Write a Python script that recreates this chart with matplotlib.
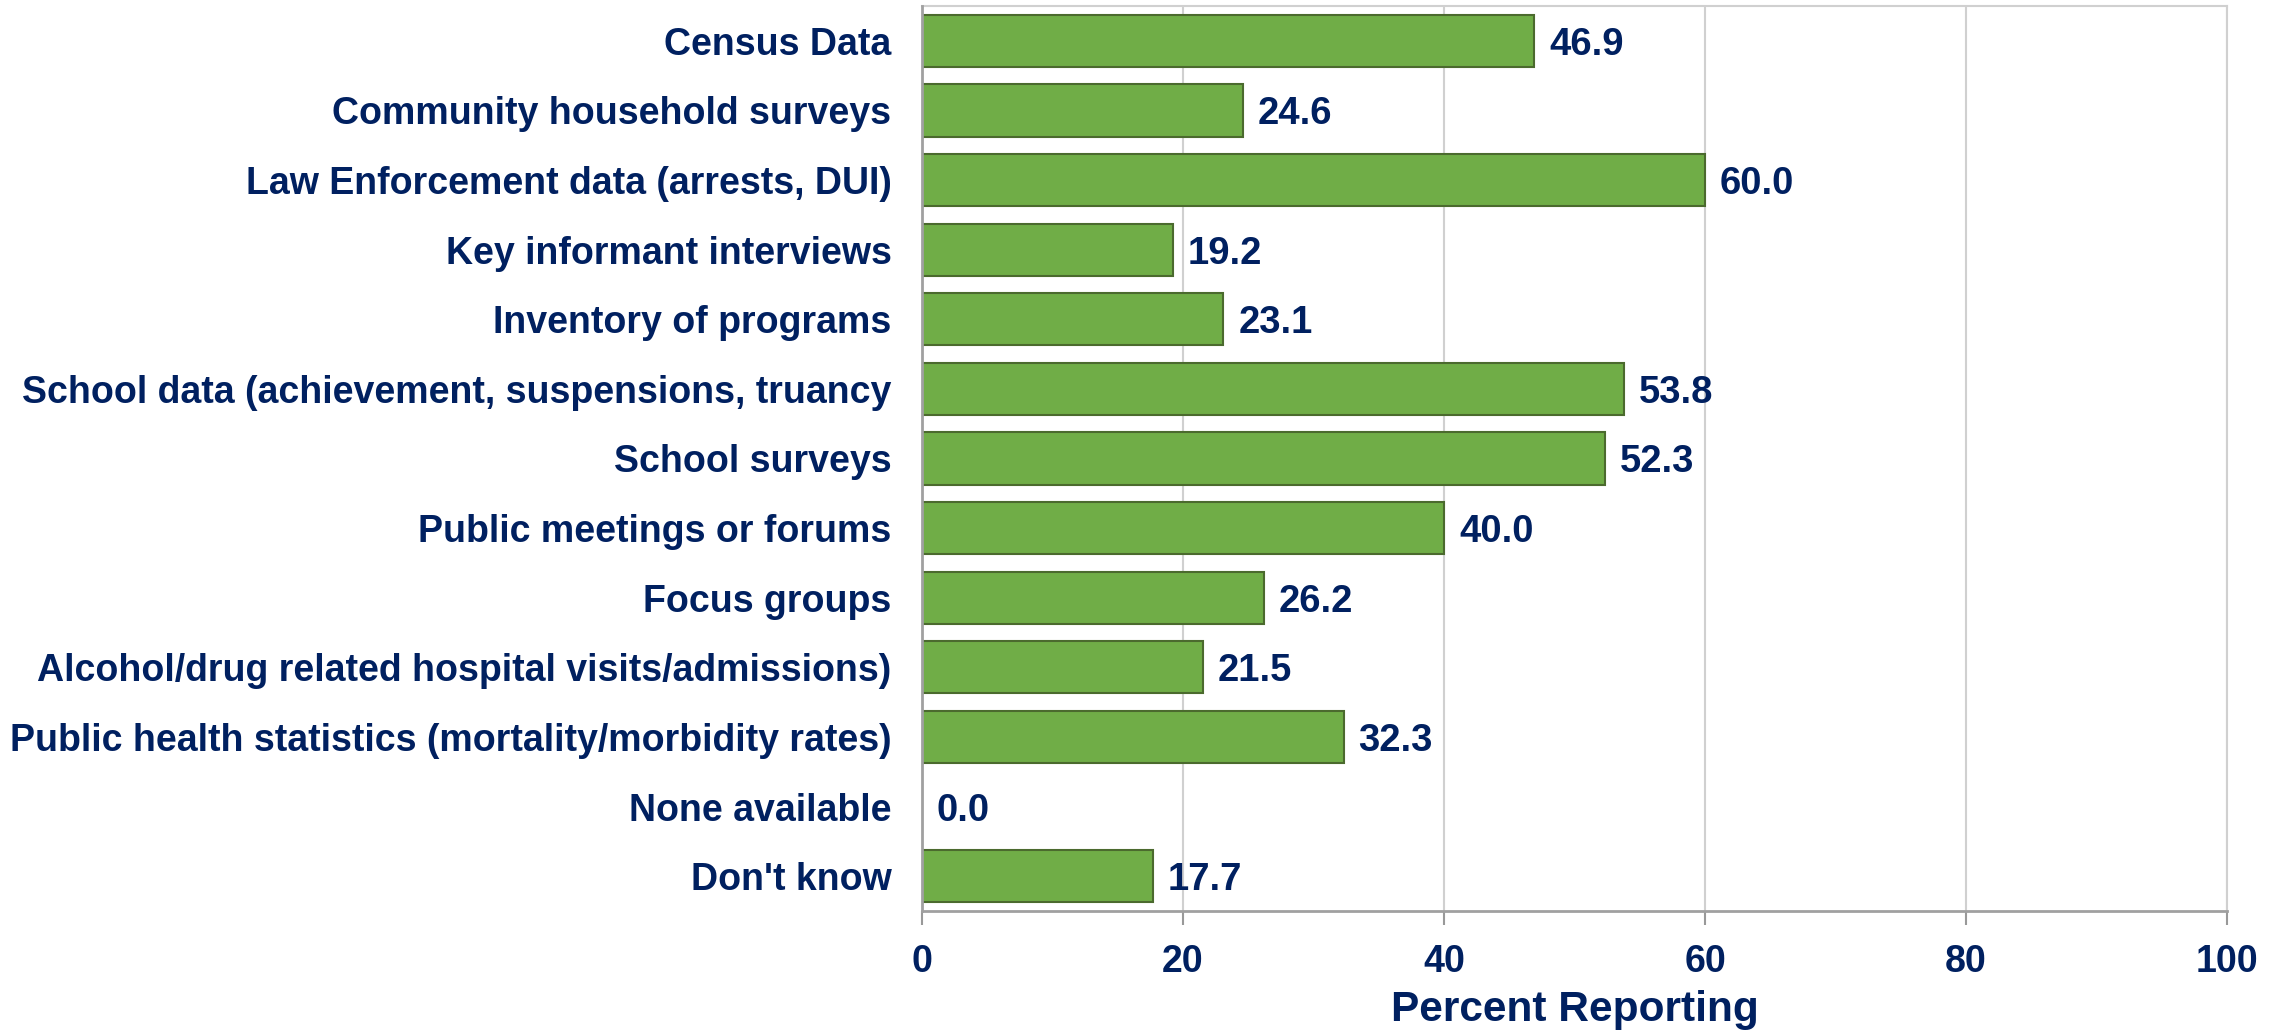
import numpy as np
import matplotlib
matplotlib.use("Agg")
import matplotlib.pyplot as plt
from matplotlib.transforms import offset_copy

categories = [
    "Census Data",
    "Community household surveys",
    "Law Enforcement data (arrests, DUI)",
    "Key informant interviews",
    "Inventory of programs",
    "School data (achievement, suspensions, truancy",
    "School surveys",
    "Public meetings or forums",
    "Focus groups",
    "Alcohol/drug related hospital visits/admissions)",
    "Public health statistics (mortality/morbidity rates)",
    "None available",
    "Don't know",
]
values = [46.9, 24.6, 60.0, 19.2, 23.1, 53.8, 52.3, 40.0, 26.2, 21.5, 32.3, 0.0, 17.7]
xticks = [0, 20, 40, 60, 80, 100]

navy = "#002060"
plt.rcParams["font.family"] = ["Liberation Sans", "DejaVu Sans"]
plt.rcParams["font.weight"] = "bold"

fig = plt.figure(figsize=(22.85, 10.31), dpi=100)
ax = fig.add_axes([922 / 2285, 1 - 911 / 1031, (2227 - 922) / 2285, (911 - 6) / 1031])

y = np.arange(len(categories))
ax.barh(y, values, height=0.75, color="#70AD47", edgecolor="#4B6A2E", linewidth=1.5, zorder=3)

# value labels just past the bar ends
trans = offset_copy(ax.transData, fig=fig, x=15, y=0, units="dots")
for yi, v in zip(y, values):
    ax.text(v, yi, f"{v:.1f}", transform=trans, ha="left", va="center_baseline",
            fontsize=27.5, fontweight="bold", color=navy)

ax.set_ylim(len(categories) - 0.5, -0.5)
ax.set_xlim(0, 100)
ax.set_yticks(y)
ax.set_yticklabels(categories)
ax.set_xticks(xticks)
ax.tick_params(axis="y", length=0, pad=22, labelsize=27, labelcolor=navy)
ax.tick_params(axis="x", length=10, width=1.5, color="#999999", pad=14, labelsize=27, labelcolor=navy)

ax.grid(axis="x", color="#D0D0D0", linewidth=1.5, zorder=0)
for side in ["top", "right"]:
    ax.spines[side].set_color("#D0D0D0")
    ax.spines[side].set_linewidth(1.5)
for side in ["left", "bottom"]:
    ax.spines[side].set_color("#A0A0A0")
    ax.spines[side].set_linewidth(2)
ax.spines["left"].set_zorder(4)

ax.set_xlabel("Percent Reporting", fontsize=30.5, fontweight="bold", color=navy, labelpad=7)

fig.savefig("out.png", dpi=100)
